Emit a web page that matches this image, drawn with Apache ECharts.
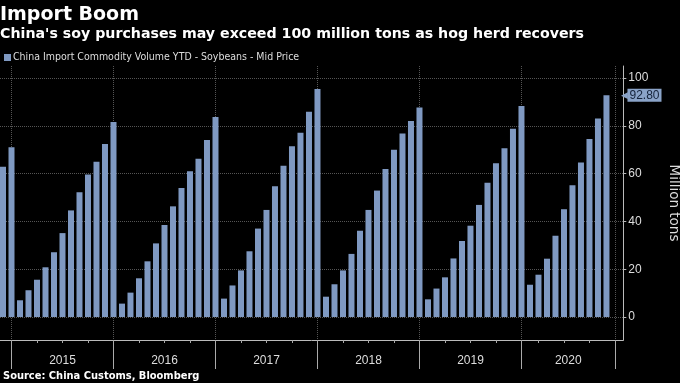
<!DOCTYPE html>
<html>
<head>
<meta charset="utf-8">
<script src="https://cdn.jsdelivr.net/npm/echarts@6/dist/echarts.min.js"></script>
<style>
html,body{margin:0;padding:0;background:#000;}
#chart{width:680px;height:383px;}
</style>
</head>
<body>
<div id="chart"></div>
<script>
// ---- data (million tons, YTD cumulative soybean imports) ----
var seriesName = 'China Import Commodity Volume YTD - Soybeans - Mid Price';
var y2014 = [62.9, 71.0]; // Nov, Dec 2014
var y2015 = [7.0, 11.2, 15.6, 20.8, 27.1, 35.1, 44.6, 52.2, 59.6, 65.0, 72.4, 81.6];
var y2016 = [5.6, 10.2, 16.2, 23.3, 30.8, 38.5, 46.3, 54.0, 61.0, 66.2, 74.1, 83.7];
var y2017 = [7.7, 13.2, 19.5, 27.5, 37.0, 44.8, 54.7, 63.3, 71.4, 77.1, 85.9, 95.4];
var y2018 = [8.5, 13.7, 19.5, 26.4, 36.1, 44.8, 52.9, 61.9, 70.0, 76.8, 82.0, 87.7];
var y2019 = [7.4, 11.9, 16.6, 24.5, 31.8, 38.2, 46.9, 56.2, 64.3, 70.6, 78.8, 88.3];
var y2020 = [13.5, 17.7, 24.4, 34.0, 45.1, 55.1, 64.6, 74.5, 83.1, 92.8];
var years = ['2015', '2016', '2017', '2018', '2019', '2020'];
var yearBoundaries = [0, 12, 24, 36, 48, 60, 71]; // month index (0 = end of Dec 2014)
var quarterTicks = [3, 6, 9, 15, 18, 21, 27, 30, 33, 39, 42, 45, 51, 54, 57, 62, 65, 68];
var yTicks = [0, 20, 40, 60, 80, 100];
var lastValueLabel = '92.80';

// ---- build series data: x = month index ----
var data = [];
data.push([-1, y2014[0]]);
data.push([0, y2014[1]]);
[y2015, y2016, y2017, y2018, y2019, y2020].forEach(function (arr, yi) {
  arr.forEach(function (v, k) { data.push([yi * 12 + k + 1, v]); });
});
var labelPos = {};
var labelVals = [];
for (var i = 0; i < years.length; i++) {
  var p = (yearBoundaries[i] + yearBoundaries[i + 1]) / 2;
  labelPos[p] = years[i];
  labelVals.push(p);
}
var barColor = '#7f99c2';
var lastIdx = data.length - 1;
data[lastIdx] = {
  value: data[lastIdx],
  label: {
    show: true,
    position: [18, 0],
    align: 'left',
    verticalAlign: 'middle',
    formatter: '{a|◀}{b|' + lastValueLabel + '}',
    rich: {
      a: { color: '#8aa3c8', fontSize: 9, padding: [0, -1, 0, 0] },
      b: { color: '#15233b', backgroundColor: '#8aa3c8', fontSize: 12, fontFamily: 'Liberation Sans', padding: [1, 2, 0, 2], lineHeight: 13 }
    }
  }
};

var FONT = 'Liberation Sans';
var chart = echarts.init(document.getElementById('chart'), null, { renderer: 'canvas' });
chart.setOption({
  backgroundColor: '#000',
  animation: false,
  title: [
    { text: 'Import Boom', left: 0, top: 6, padding: 0, textStyle: { color: '#fff', fontSize: 19, fontWeight: 'bold', fontFamily: 'DejaVu Sans' } },
    { text: "China's soy purchases may exceed 100 million tons as hog herd recovers", left: 0, top: 27, padding: 0, textStyle: { color: '#fff', fontSize: 14.2, fontWeight: 'bold', fontFamily: 'DejaVu Sans' } },
    { text: 'Source: China Customs, Bloomberg', left: 3, top: 371, padding: 0, textStyle: { color: '#fff', fontSize: 11, fontWeight: 'bold', fontFamily: 'DejaVu Sans Condensed' } }
  ],
  legend: {
    left: 4, top: 52, padding: 0,
    itemWidth: 7, itemHeight: 7, itemGap: 4,
    icon: 'rect',
    textStyle: { color: '#ddd', fontSize: 10.5, fontFamily: 'DejaVu Sans Condensed', padding: [0, 0, 0, -3] },
    data: [seriesName]
  },
  grid: { left: 0, right: 56.7, top: 66, bottom: 43, containLabel: false, outerBoundsMode: 'none' },
  xAxis: [
    {
      type: 'value', min: -1.353, max: 71.98,
      axisLine: { show: true, onZero: false, lineStyle: { color: '#bbb', width: 1 } },
      axisTick: { show: true, customValues: yearBoundaries, length: 29, lineStyle: { color: '#aaa' } },
      axisLabel: {
        show: true, customValues: labelVals, margin: 15, color: '#ddd', fontSize: 12, fontFamily: FONT,
        formatter: function (v) { return labelPos[v] || ''; }
      },
      splitLine: { show: true, lineStyle: { color: '#555', type: 'dotted' } }
    },
    {
      type: 'value', min: -1.353, max: 71.98, position: 'bottom',
      axisLine: { show: false, onZero: false },
      axisTick: { show: true, customValues: quarterTicks, length: 3, lineStyle: { color: '#aaa' } },
      axisLabel: { show: false },
      splitLine: { show: false }
    }
  ],
  yAxis: {
    type: 'value', position: 'right', min: -9.62, max: 105.02,
    name: 'Million tons', nameLocation: 'middle', nameRotate: -90, nameGap: 43,
    nameTextStyle: { color: '#ddd', fontSize: 13.5, fontFamily: 'DejaVu Sans' },
    axisLine: { show: true, onZero: false, lineStyle: { color: '#bbb', width: 1 } },
    axisTick: { show: true, customValues: yTicks, length: 3, lineStyle: { color: '#bbb' } },
    axisLabel: { show: true, customValues: yTicks, margin: 5, color: '#ddd', fontSize: 12, fontFamily: FONT },
    splitLine: { show: true, lineStyle: { color: '#555', type: 'dotted' } }
  },
  series: [{
    name: seriesName,
    type: 'bar',
    xAxisIndex: 0,
    barWidth: 6,
    itemStyle: { color: barColor },
    data: data
  }]
});
</script>
</body>
</html>
